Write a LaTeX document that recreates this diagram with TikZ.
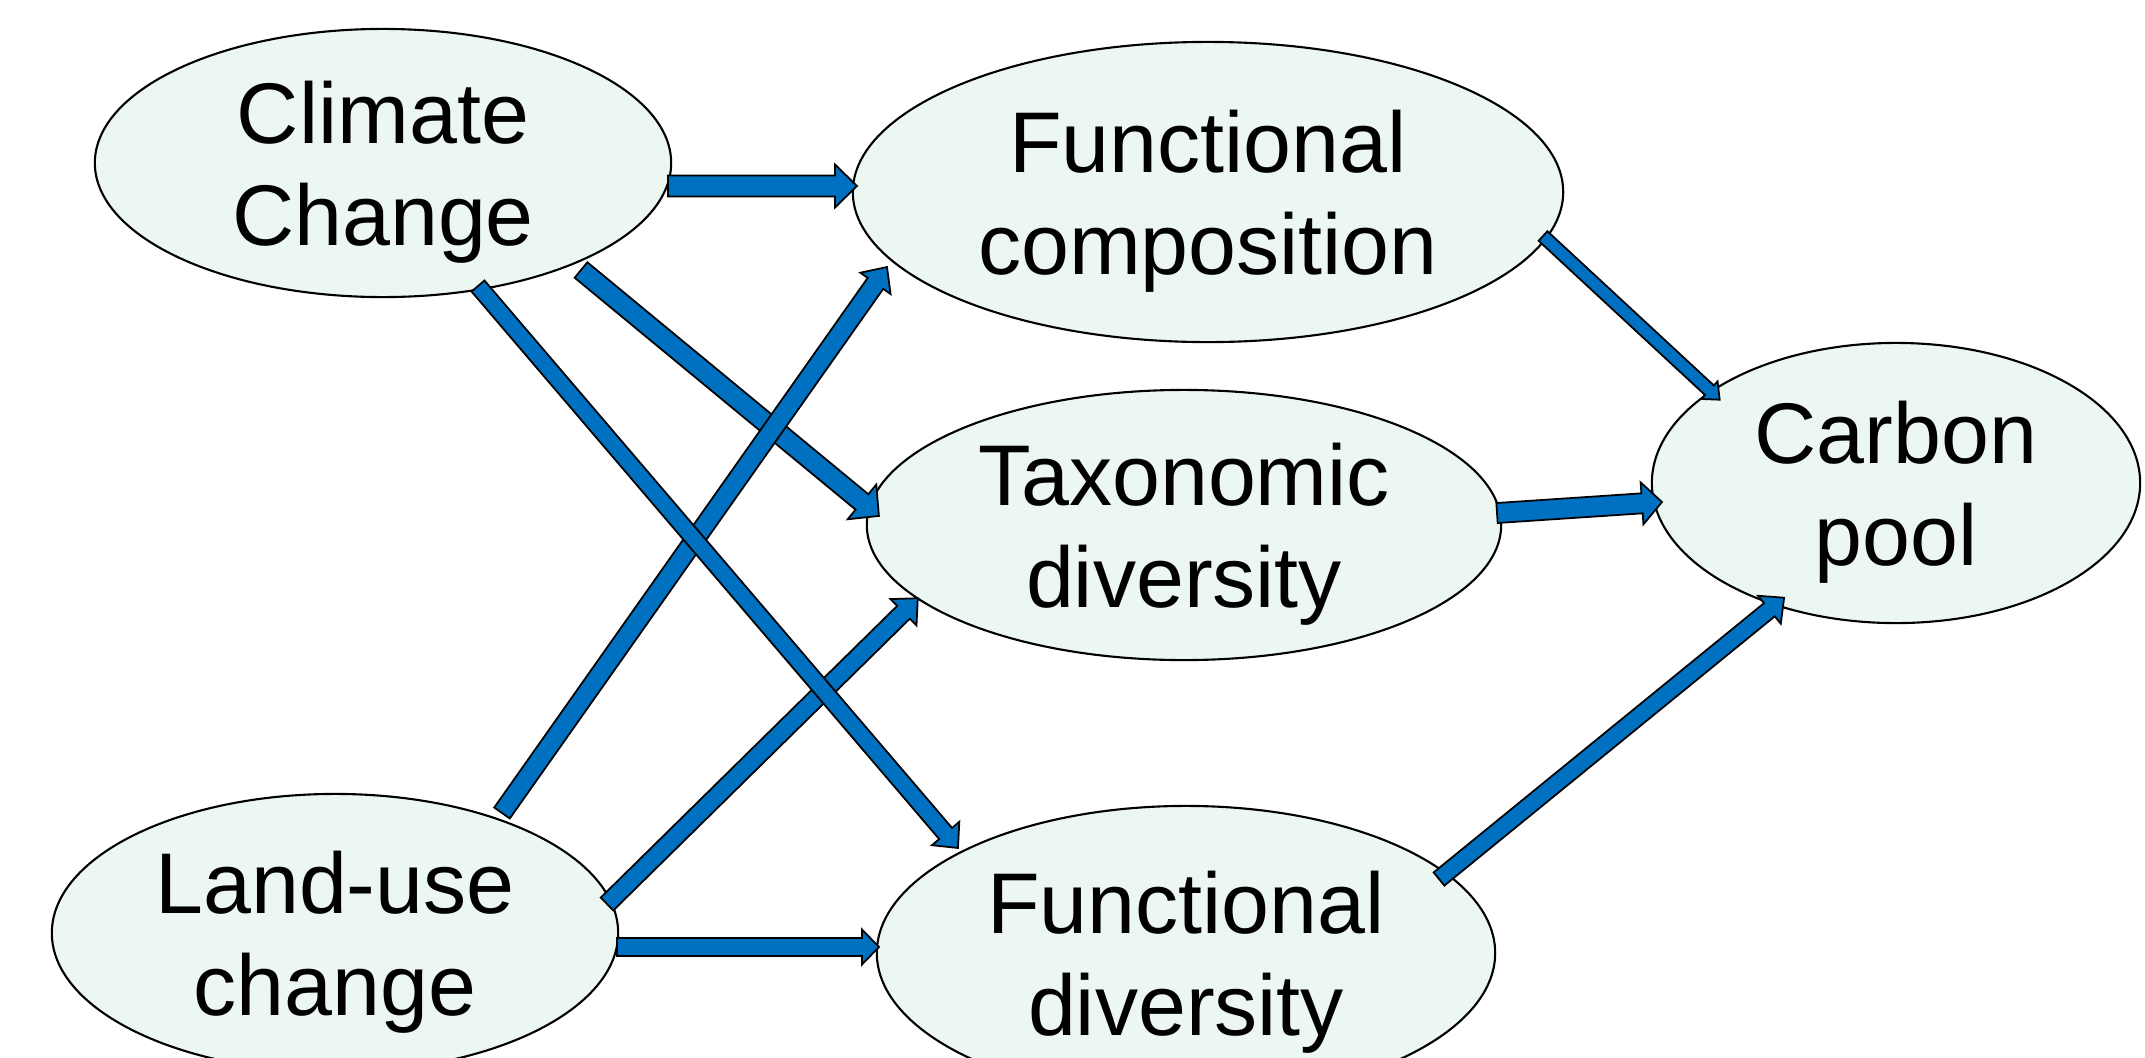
\documentclass[tikz,border=0pt]{standalone}
\usepackage{fontspec}
\setmainfont{Liberation Sans}
\usetikzlibrary{shapes.geometric}
\definecolor{mint}{RGB}{237,247,241}
\definecolor{arrowblue}{RGB}{0,112,192}
\tikzset{
  bubble/.style={ellipse, draw=black, line width=0.6pt, fill=mint, inner sep=0pt,
    align=center, text depth=0pt, font={\fontsize{24.5}{29}\selectfont}},
  fatarrow/.style={fill=arrowblue, draw=black, line width=0.5pt, line join=miter}
}
% fat block arrow: from, to, shaft width, head width, head length (all in px)
\newcommand{\fatarr}[5]{%
  \pgfpointdiff{\pgfpointanchor{#1}{center}}{\pgfpointanchor{#2}{center}}%
  \pgfgetlastxy{\fadx}{\fady}%
  \pgfmathsetmacro{\falen}{veclen(\fadx,\fady)}%
  \pgfmathsetmacro{\faang}{atan2(\fady,\fadx)}%
  \pgfmathsetmacro{\fas}{#3*0.14226}%
  \pgfmathsetmacro{\fah}{#4*0.14226}%
  \pgfmathsetmacro{\fab}{\falen-#5*0.28453}%
  \filldraw[fatarrow, shift={(#1)}, rotate=\faang]
    (0pt,-\fas pt) -- (\fab pt,-\fas pt) -- (\fab pt,-\fah pt) -- (\falen pt,0pt)
    -- (\fab pt,\fah pt) -- (\fab pt,\fas pt) -- (0pt,\fas pt) -- cycle;
}
\begin{document}
\begin{tikzpicture}[x=0.01cm, y=-0.01cm]
\useasboundingbox (0,0) rectangle (2145,1057);
\fill[white] (0,0) rectangle (2145,1057);

\node[bubble, minimum width=5.76cm, minimum height=2.68cm] (cc) at (383,163) {Climate\\Change};
\node[bubble, minimum width=7.10cm, minimum height=3.00cm] (fc) at (1208,192) {Functional\\composition};
\node[bubble, minimum width=6.34cm, minimum height=2.70cm] (td) at (1184,525) {Taxonomic\\diversity};
\node[bubble, minimum width=4.88cm, minimum height=2.80cm] (cp) at (1896,483) {Carbon\\pool};
\node[bubble, minimum width=5.66cm, minimum height=2.78cm] (lu) at (335,933) {Land-use\\change};
\node[bubble, minimum width=6.18cm, minimum height=2.94cm] (fd) at (1186,953) {Functional\\diversity};

% arrow end points
\coordinate (cc-fc-a) at (668,186);  \coordinate (cc-fc-b) at (857,186);
\coordinate (cc-td-a) at (581,270);  \coordinate (cc-td-b) at (879,516);
\coordinate (cc-fd-a) at (478,286);  \coordinate (cc-fd-b) at (958,848);
\coordinate (lu-fc-a) at (502,813);  \coordinate (lu-fc-b) at (887,267);
\coordinate (lu-td-a) at (607,904);  \coordinate (lu-td-b) at (918,598);
\coordinate (lu-fd-a) at (617,947);  \coordinate (lu-fd-b) at (879,947);
\coordinate (fc-cp-a) at (1543,236); \coordinate (fc-cp-b) at (1720,400);
\coordinate (td-cp-a) at (1497,513); \coordinate (td-cp-b) at (1662,502);
\coordinate (fd-cp-a) at (1439,879); \coordinate (fd-cp-b) at (1785,597);

\fatarr{cc-fc-a}{cc-fc-b}{21}{43}{22}
\fatarr{cc-td-a}{cc-td-b}{20}{45}{22}
\fatarr{lu-fc-a}{lu-fc-b}{19}{37}{20}
\fatarr{lu-td-a}{lu-td-b}{18}{37}{20}
\fatarr{cc-fd-a}{cc-fd-b}{17}{36}{19}
\fatarr{lu-fd-a}{lu-fd-b}{18}{35}{17}
\fatarr{fc-cp-a}{fc-cp-b}{13}{24}{14}
\fatarr{td-cp-a}{td-cp-b}{20}{42}{20}
\fatarr{fd-cp-a}{fd-cp-b}{17}{36}{19}
\end{tikzpicture}
\end{document}
